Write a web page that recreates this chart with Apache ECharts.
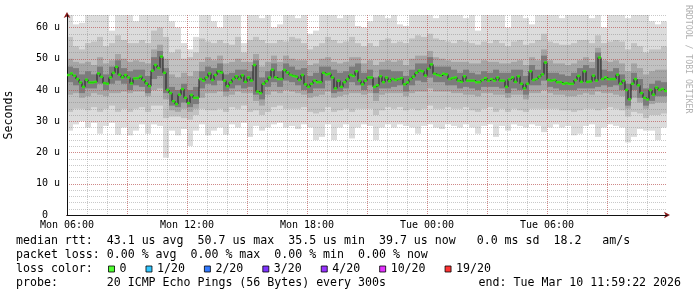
<!DOCTYPE html>
<html><head><meta charset="utf-8">
<script src="https://cdn.jsdelivr.net/npm/echarts@6/dist/echarts.min.js"></script>
<style>html,body{margin:0;padding:0;background:#fff}#c{width:697px;height:297px}</style>
</head><body><div id="c"></div>
<script>
// x axis: hours since Mon 06:00 (graph spans 30 h, end Tue 11:59:22)
const hourLabels = ['Mon 06:00', 'Mon 12:00', 'Mon 18:00', 'Tue 00:00', 'Tue 06:00'];
const medianStepHours = 0.15;   // one median sample per 9 min
const smokeStepHours = 0.3;     // one smoke column per 18 min

// median rtt (microseconds)
const medianRtt = [
 44.8,45.3,44.6,43.5,42.4,41,43.3,42.4,42.4,42.6,
 45.3,44.2,42.2,42,44,45.5,47.4,44.9,44,44.8,
 44,42.1,43.7,43.8,44.3,43.2,42.1,41.2,46.2,48,
 47,50.7,45.5,40,39,36.4,35.5,38.5,40.3,37.5,
 35.8,38.4,37.5,37.5,43.5,43,44,45.3,43.2,44.8,
 46,45.6,43,41.2,42.4,43.5,44.4,43.5,44.7,42.6,
 44,43,48,39.5,39,42,42.8,44,46.5,44,
 43.5,43.5,46.4,45.6,44.8,44.5,44.3,43.2,44.8,41.8,
 41,42,43,42.5,42.5,45.5,45,45.2,44,40.5,
 43,41,42.5,43.5,44.8,44.5,46,43,41.8,43,
 44,44,41,41.5,44.4,42.5,44,42.8,43.5,43.2,
 43.5,43.8,41.8,42.4,43.5,44.3,45.5,46.2,46,44.6,
 46.8,48.2,45.2,44.8,44.6,45.2,45,43.5,43.8,44,
 43,42.6,44.4,43,43,43,42.5,42.5,43.2,43.8,
 43,43.5,43,44,43,43,41,43.4,44,42.6,
 44.4,42,40.5,42,46,43.2,43.5,44.3,45,48.8,
 43.2,43,43.2,42.5,42.5,42,42.2,42,42,43.2,
 44.5,42.6,46,42.6,42.7,44.6,43,50.4,43.5,44,
 43.5,43.5,43.5,44.9,42,43,40,37,42,43.5,
 41.5,39,37.5,37,40,38.5,40.8,40,40.3,39.7
];

// smoke envelopes (ping spread per column), outer -> inner
const smokeLo1 = [
 27,29,30,28,29.5,26,28.5,29.5,25.7,28,
 25.5,27,29,26,29,28.5,18.3,27,25.5,27.5,
 22.1,27,29,25.5,27,28,25.7,29,28,29.5,
 25,28.5,27,28,29,29.5,28,28.5,27.5,29,
 28,24,25,29,24,28,29,24.5,28,29,
 28.5,24,28,29,28,29,28.5,28,26,28.5,
 29,28,27.5,29,28.5,28,29,28,26,28.5,
 29,25,28.5,27,29,28.5,28,29,28.5,26.5,
 28,29,28,28.5,25.5,26,28.5,29,25,28,
 29,28.5,28,23.2,25,27.5,27,27,24,28
];
const smokeHi1 = [
 64,61,61.5,64,64,64,64,59,64,64,
 64,62,64,64,64,64,64,62,60,55,
 53,57,64,64,62,60,64,64,64,55,
 64,64,63,64,60,61,64,64,63,64,
 58,59,64,64,64,63,64,64,60.5,60,
 62,64,64,63,64,61,60.5,64,64,64,
 64,63,64,64,64,64,63,64,59,64,
 64,64,64,60,64,64,63,61,64,64,
 64,64,63,64,64,64,64,63,64,60,
 64,64,64,63,64,64,64,62,61,62
];
const smokeLo2 = [
 33,34,34,33.5,34.5,33,34,35,33,34,
 33,34,34.5,33,35,35,31,31.5,31.5,31,
 30.5,32,34,33.5,33.5,34,33,34.5,34,35,
 33,33.5,32,33,34.5,35,34,34,34,34.5,
 33,32.5,33,34.5,33,33.5,34,33,34,34,
 34,32,33.5,34.5,34,34.5,33.5,34,33.5,34,
 35,34,34,34.5,34,34,34.5,33.5,33,34,
 34.5,33,34,33,34,33.5,33,34,34,34,
 34,34,33.5,33.5,33,33.5,34,34,33.5,34,
 34.5,34,33.5,31.5,33,32.5,31,32,32,32.5
];
const smokeHi2 = [
 57,54,53,55,55.5,57,54,55,57.5,56,
 55,55,56,55,59,60,57,52,53,50,
 50.5,52,56.5,55.5,55,56,55,54.5,57,52,
 56,57,56,55,55,56,55.5,57,56.5,55,
 53,54,55,57,56,55,55.5,57,55,54,
 55,54,56,56.5,55,55.5,55,56.5,57.5,57,
 58,56.5,56,55.5,55,56,55.5,55,54.5,55.5,
 55,56,55,54,55.5,56,54.5,55,56,58,
 55.5,55,54.5,54.5,55,56,56,55,57.5,55,
 55.5,56,55.5,53,55,54,52,53,53,54
];
const smokeLo3 = [
 38.5,39,37.5,38,39,38.5,38,39,39,39.5,
 39,39.5,39.5,38,40,40.5,37,33.5,33,34,
 33,34,37.5,39,39,39.5,38,38.5,39.5,39,
 39,36.5,35,38.5,39.5,39,40,39.5,39,38.5,
 37.5,38,38.5,39.5,37.5,38,38.5,39,39,38.5,
 39,36.5,38.5,39,39,39,38,39,39.5,39.5,
 40.5,39.5,39.5,39.5,39,39,38.5,38.5,38,39,
 39,38.5,38.5,37.5,38.5,38.5,37,39,39,40,
 39,38.5,38.5,38,38,38.5,39,38.5,39.5,39,
 39,38.5,38,34,37.5,36,34,35.5,36,36
];
const smokeHi3 = [
 50,49,48.5,49,48,50.5,48.5,49.5,51.5,50,
 49,49.5,49,48.5,53,54.5,50,45,44,45.5,
 44.5,46,49,50.5,49.5,51,48.5,49,50,49,
 49,51.5,47.5,49,51,49,51,50,49.5,49.5,
 48,48.5,50,50.5,49,48.5,49,50.5,50.5,48.5,
 49.5,48,49,49.5,49,49.5,48,50,51,51,
 52.5,50.5,50,49.5,49,49,49,48.5,48.5,49.5,
 49,49,48.5,48.5,49,49.5,48,50.5,49.5,53,
 49.5,48.5,48.5,48,48.5,49.5,50.5,49,53.5,49.5,
 49,49.5,48.5,46,48.5,47,45,46,46.5,46.5
];
const smokeLo4 = [
 42.5,41.5,39,40.5,40.5,42,40,42,43,42,
 40,41.5,41,39,43.5,44.5,39,35,34.5,36,
 34.5,35.5,40.5,42,41.5,43,39.5,40.5,41.5,40.5,
 41,38.5,37,41,42.5,41,43,42.5,41.5,40,
 39,40.5,40.5,43,39,39.5,40.5,42.5,41.5,40,
 41.5,39,40.5,40.5,41,41.5,39.5,41.5,43,42.5,
 44,42.5,42.5,41.5,41.5,40.5,41,40.5,40,41,
 41,41,40.5,39,40.5,40,38.5,41.5,41.5,43,
 41,40.5,40,40,40,40.5,40.5,40.5,41,41.5,
 41,41.5,40,35,40,37.5,35,36.5,38,38
];
const smokeHi4 = [
 47.5,47,45,46,45,47.5,45,47.5,49.5,47,
 46,46.5,46.5,44.5,50.5,52.5,47,41,40,42,
 40,41,46,47.5,47,48.5,45,45.5,46.5,46.5,
 46,49.5,44,46,48.5,46,48.5,47.5,46.5,47,
 44.5,45.5,47.5,47.5,46.5,45.5,46,47.5,48.5,45.5,
 46.5,44,46.5,46.5,46,46,44.5,46.5,48.5,48.5,
 50.5,47.5,47.5,47.5,46.5,45.5,46.5,45.5,45,46,
 45.5,46.5,45.5,45.5,46.5,46.5,44.5,48,46.5,51,
 45.5,45.5,45,44.5,45.5,47,48,47,52,46.5,
 46,47,45,42,45.5,43.5,40.5,42,43,42.5
];

const lossLabels = ['0', '1/20', '2/20', '3/20', '4/20', '10/20', '19/20'];
const lossColors = ['#26ff00', '#00b8ff', '#0059ff', '#5e00ff', '#7e00ff', '#dd00ff', '#ff0000'];

const legendLines = [
 'median rtt:  43.1 us avg  50.7 us max  35.5 us min  39.7 us now   0.0 ms sd  18.2   am/s',
 'packet loss: 0.00 % avg  0.00 % max  0.00 % min  0.00 % now',
 'loss color:',
 'probe:       20 ICMP Echo Pings (56 Bytes) every 300s'
];
const endText = 'end: Tue Mar 10 11:59:22 2026';
const watermark = 'RRDTOOL / TOBI OETIKER';
const yName = 'Seconds';

const MONO = '"DejaVu Sans Mono", "Liberation Mono", monospace';
const smokeColors = ['#dcdcdc', '#c2c2c2', '#a5a5a5', '#7c7c7c'];
const smokeLayers = [[smokeLo1, smokeHi1], [smokeLo2, smokeHi2], [smokeLo3, smokeHi3], [smokeLo4, smokeHi4]];

const chart = echarts.init(document.getElementById('c'), null, {renderer: 'canvas'});

const series = [];
smokeLayers.forEach(function (layer, k) {
  const lo = layer[0], hi = layer[1];
  series.push({
    type: 'custom', silent: true, z: 1, animation: false,
    xAxisIndex: 0, yAxisIndex: 0,
    encode: {x: [0, 1], y: [2, 3]},
    data: lo.map(function (v, c) { return [c * smokeStepHours, (c + 1) * smokeStepHours, v, hi[c]]; }),
    renderItem: function (params, api) {
      const p0 = api.coord([api.value(0), api.value(3)]);
      const p1 = api.coord([api.value(1), api.value(2)]);
      return {type: 'rect', shape: {x: p0[0], y: p0[1], width: p1[0] - p0[0], height: p1[1] - p0[1]},
              style: {fill: smokeColors[k]}};
    }
  });
});
const medianPts = medianRtt.map(function (v, i) { return [(i + 0.5) * medianStepHours, v]; });
series.push({
  type: 'line', step: 'middle', silent: true, z: 5, animation: false,
  data: medianPts, showSymbol: false,
  lineStyle: {color: '#1e1e1e', width: 1}
});
lossLabels.forEach(function (name, k) {
  series.push({
    type: 'scatter', name: name, silent: true, z: 6, animation: false,
    symbol: 'rect', symbolSize: [3, 2.5],
    itemStyle: {color: lossColors[k]},
    data: k === 0 ? medianPts : []
  });
});

const gridRed = {color: 'rgba(215,60,60,0.45)', width: 1, type: [1, 1]};
const gridGray = {color: 'rgba(120,120,120,0.4)', width: 1, type: [1, 1]};

chart.setOption({
  animation: false,
  backgroundColor: '#ffffff',
  grid: {left: 67, top: 15, width: 600, height: 200, containLabel: false, outerBoundsMode: 'none'},
  xAxis: [{
    type: 'value', min: 0, max: 30, interval: 3, position: 'bottom', z: 4,
    axisLine: {show: true, lineStyle: {color: '#111', width: 1}},
    axisTick: {show: false},
    axisLabel: {
      margin: 5, color: '#000', fontFamily: MONO, fontSize: 10,
      formatter: function (v) { return (v % 6 === 0 && hourLabels[v / 6]) ? hourLabels[v / 6] : ''; }
    },
    splitLine: {show: true, showMaxLine: false, lineStyle: gridRed}
  }, {
    type: 'value', min: 0, max: 30, interval: 1, position: 'bottom', z: 3,
    axisLine: {show: true, symbol: ['none', 'arrow'], symbolSize: [5, 6], symbolOffset: [0, 3],
               lineStyle: {color: '#8b1a1a', width: 1}},
    axisTick: {show: false}, axisLabel: {show: false},
    splitLine: {show: true, showMaxLine: false, lineStyle: gridGray}
  }],
  yAxis: [{
    type: 'value', min: 0, max: 64, interval: 10, position: 'left', z: 4,
    name: yName, nameLocation: 'middle', nameGap: 52,
    nameTextStyle: {color: '#000', fontFamily: MONO, fontSize: 11.6},
    axisLine: {show: true, lineStyle: {color: '#111', width: 1}},
    axisTick: {show: false},
    axisLabel: {
      margin: 7, color: '#000', fontFamily: MONO, fontSize: 10,
      formatter: function (v) { if (v === 0) return '0  '; return v % 10 === 0 ? v + ' u' : ''; }
    },
    splitLine: {show: true, showMaxLine: false, lineStyle: gridRed}
  }, {
    type: 'value', min: 0, max: 64, interval: 2, position: 'left', z: 3,
    axisLine: {show: true, symbol: ['none', 'arrow'], symbolSize: [5, 6], symbolOffset: [0, 3],
               lineStyle: {color: '#8b1a1a', width: 1}},
    axisTick: {show: false}, axisLabel: {show: false},
    splitLine: {show: true, lineStyle: gridGray}
  }],
  legend: {
    left: 108, top: 263, itemWidth: 6, itemHeight: 6, itemGap: 19, icon: 'rect',
    selectedMode: false, data: lossLabels, padding: 0,
    itemStyle: {borderColor: '#000', borderWidth: 1},
    textStyle: {color: '#000', fontFamily: MONO, fontSize: 11.6}
  },
  graphic: [
    {type: 'text', x: 16, y: 241, silent: true, style: {text: legendLines[0], font: '11.6px ' + MONO, fill: '#000', verticalAlign: 'middle'}},
    {type: 'text', x: 16, y: 255, silent: true, style: {text: legendLines[1], font: '11.6px ' + MONO, fill: '#000', verticalAlign: 'middle'}},
    {type: 'text', x: 16, y: 269, silent: true, style: {text: legendLines[2], font: '11.6px ' + MONO, fill: '#000', verticalAlign: 'middle'}},
    {type: 'text', x: 16, y: 283, silent: true, style: {text: legendLines[3], font: '11.6px ' + MONO, fill: '#000', verticalAlign: 'middle'}},
    {type: 'text', x: 681, y: 283, silent: true, style: {text: endText, font: '11.6px ' + MONO, fill: '#000', align: 'right', verticalAlign: 'middle'}},
    {type: 'text', x: 688, y: 5, rotation: -Math.PI / 2, silent: true, style: {text: watermark, font: '8.2px ' + MONO, fill: '#b0b0b0', align: 'left', verticalAlign: 'middle'}}
  ],
  series: series
});
</script></body></html>
